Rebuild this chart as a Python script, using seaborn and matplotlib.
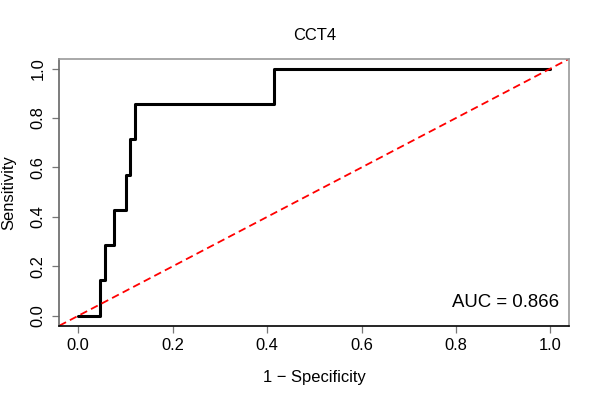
import matplotlib
matplotlib.use("Agg")
import matplotlib.pyplot as plt
import seaborn as sns
import pandas as pd

# ROC curve coordinates
fpr = [0.0, 0.046, 0.046, 0.0565, 0.0565, 0.075, 0.075, 0.102, 0.102,
       0.110, 0.110, 0.121, 0.121, 0.415, 0.415, 1.0]
tpr = [0.0, 0.0, 0.143, 0.143, 0.286, 0.286, 0.429, 0.429, 0.571,
       0.571, 0.714, 0.714, 0.857, 0.857, 1.0, 1.0]
ticks = [0.0, 0.2, 0.4, 0.6, 0.8, 1.0]
tick_labels = ["0.0", "0.2", "0.4", "0.6", "0.8", "1.0"]
title = "CCT4"
auc_label = "AUC = 0.866"

sns.set_style("ticks")
plt.rcParams["font.family"] = ["Liberation Sans", "DejaVu Sans"]
plt.rcParams["text.color"] = "black"
plt.rcParams["axes.labelcolor"] = "black"

fig = plt.figure(figsize=(6, 4), dpi=100)
ax = fig.add_axes([59.3 / 600, 1 - 325.7 / 400, 510 / 600, 267 / 400])

df = pd.DataFrame({"fpr": fpr, "tpr": tpr})
sns.lineplot(data=df, x="fpr", y="tpr", sort=False, estimator=None,
             color="black", linewidth=2.2, ax=ax)
ax.axline((0, 0), (1, 1), color="red", linewidth=1.3,
          linestyle=(0, (4.2, 2.4)))

ax.set_xlim(-0.04, 1.04)
ax.set_ylim(-0.04, 1.04)
ax.set_xticks(ticks)
ax.set_xticklabels(tick_labels)
ax.set_yticks(ticks)
ax.set_yticklabels(tick_labels, rotation=90, va="center")

ax.tick_params(axis="both", labelsize=11.9, length=5, width=0.9,
               color="#777777", labelcolor="black")
ax.tick_params(axis="x", pad=4)
ax.tick_params(axis="y", pad=5)

for side in ["top", "right", "left"]:
    ax.spines[side].set_color("#999999")
    ax.spines[side].set_linewidth(1.2)
ax.spines["left"].set_color("#666666")
ax.spines["bottom"].set_color("black")
ax.spines["bottom"].set_linewidth(1.2)

ax.set_xlabel("1 \u2212 Specificity", fontsize=11.9, va="center", color="black")
ax.set_ylabel("Sensitivity", fontsize=11.9, va="center", color="black")
ax.xaxis.set_label_coords(0.5, -52.3 / 267)
ax.yaxis.set_label_coords(-51.0 / 510, 0.5)

ax.set_title(title, fontsize=11.9, y=(325.7 - 36) / 267, pad=0, va="center",
             color="black")

ax.text(1.018, 0.053, auc_label, ha="right", va="center", fontsize=13.4,
        color="black")

fig.savefig("out.png", dpi=100)
